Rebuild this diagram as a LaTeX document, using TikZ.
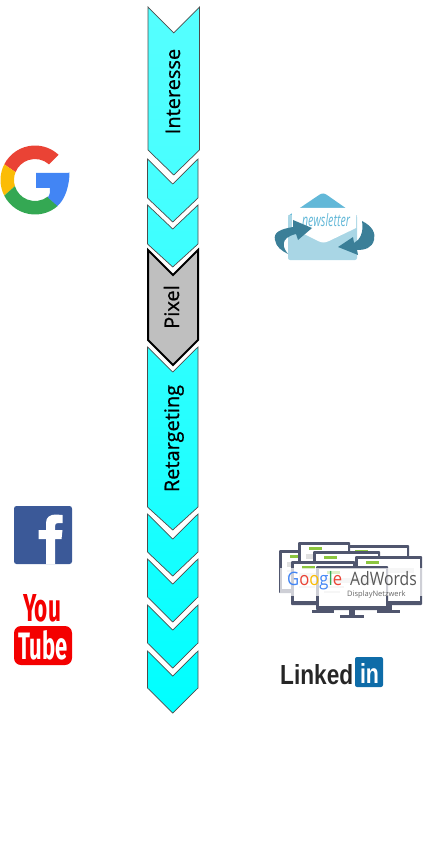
\documentclass[tikz,border=0pt]{standalone}
\usepackage{fontspec}
\usepackage{graphicx}
\setmainfont{Open Sans}
\newfontfamily\lblfont[FakeBold=0.8]{Open Sans}
\newfontfamily\libsans{Liberation Sans}
\newfontfamily\ytfont{Fira Sans}
\definecolor{cyantop}{HTML}{55FFFF}
\definecolor{gred}{HTML}{EA4335}
\definecolor{gyellow}{HTML}{FBBC05}
\definecolor{ggreen}{HTML}{34A853}
\definecolor{gblue}{HTML}{4285F4}
\definecolor{nlflap}{HTML}{62B8D8}
\definecolor{nlbody}{HTML}{A9D6E5}
\definecolor{nlarrow}{HTML}{3B7F98}
\definecolor{monframe}{HTML}{50566E}
\definecolor{mongreen}{HTML}{8CC63F}
\definecolor{fbblue}{HTML}{3B5998}
\definecolor{liblue}{HTML}{0E6CA8}
\definecolor{ytred}{HTML}{F40000}
\tikzset{
  chev/.style={draw=black!70,line width=0.7pt,line join=miter},
  chevgray/.style={draw=black,line width=2pt,fill=black!25,line join=miter},
  steplabel/.style={rotate=90,font=\lblfont\fontsize{20}{20}\selectfont,text=black,inner sep=0pt,anchor=base},
  monline/.style={fill=black!12,draw=none},
}
\newcommand{\chevpath}[6]{(#1,#3) -- ({(#1+#2)/2},#4) -- (#2,#3) -- (#2,#5) -- ({(#1+#2)/2},#6) -- (#1,#5) -- cycle}
\newcommand{\monitorshape}[4]{%
  \fill[monframe] ({(#1+#2)/2-3},#4) rectangle ({(#1+#2)/2+3},#4+6);
  \fill[monframe] ({(#1+#2)/2-(#2-#1)/6},#4+5) rectangle ({(#1+#2)/2+(#2-#1)/6},#4+8);
  \fill[monframe,rounded corners=1pt] (#1,#3) rectangle (#2,#4);
  \fill[white] (#1+2.5,#3+3) rectangle (#2-2.5,#4-4.5);
  \fill[mongreen] (#1+11,#3+5) rectangle (#1+24,#3+8);
  \fill[monline] (#1+8,#3+12) rectangle (#2-8,#3+17);
  \fill[monline] (#1+8,#3+20) rectangle (#1+28,#3+22);
  \fill[monline] (#1+8,#3+25) rectangle (#1+24,#3+27);
}
\begin{document}
\begin{tikzpicture}[x=1pt,y=-1pt]
\useasboundingbox (0,0) rectangle (429,850);

% chevrons
\path[chev,top color=cyantop,bottom color=cyantop!85!cyan] \chevpath{148}{199.5}{7}{33}{150}{175};
\path[chev,top color=cyantop!85!cyan,bottom color=cyantop!78!cyan] \chevpath{147.5}{198}{159}{184}{198}{222};
\path[chev,top color=cyantop!78!cyan,bottom color=cyantop!70!cyan] \chevpath{147.5}{198}{205}{229}{244}{267};
\path[chevgray] \chevpath{148}{198}{250}{275}{340}{365};
\path[chev,top color=cyantop!55!cyan,bottom color=cyantop!30!cyan] \chevpath{147.5}{198}{347}{372}{507}{530};
\path[chev,top color=cyantop!30!cyan,bottom color=cyantop!22!cyan] \chevpath{147.5}{198}{514}{539}{552}{576};
\path[chev,top color=cyantop!22!cyan,bottom color=cyantop!14!cyan] \chevpath{147.5}{198}{559}{584}{597}{622};
\path[chev,top color=cyantop!14!cyan,bottom color=cyantop!7!cyan] \chevpath{147.5}{198}{605}{630}{643}{668};
\path[chev,top color=cyantop!7!cyan,bottom color=cyan] \chevpath{147.5}{198}{651}{676}{688}{713};

\node[steplabel] (interesse) at (180,91.5) {Interesse};
\node[steplabel] (pixel) at (179,307) {Pixel};
\node[steplabel] (retargeting) at (179,438.5) {Retargeting};

% Google G
\begin{scope}[shift={(35,180)},x=1pt,y=1pt]
  \fill[gred] (153:34.5) arc (153:47:34.5) -- (48:21) arc (48:158:21) -- cycle;
  \fill[gyellow] (153:34.5) arc (153:207:34.5) -- (197:21) arc (197:158:21) -- cycle;
  \fill[ggreen] (207:34.5) arc (207:311:34.5) -- (-52:21) arc (-52:-163:21) -- cycle;
  \fill[gblue] (1,7) -- (33.7,7) .. controls (35,14) and (36,-14) .. (22.5,-26) -- (13,-17.5) .. controls (15,-14) and (15.5,-11) .. (15,-8) -- (1,-8) -- cycle;
\end{scope}

% Newsletter
\fill[nlflap] (288,216) -- (319,195) .. controls (322,193) and (324,193) .. (327,195) -- (357,216) -- cycle;
\fill[nlbody,rounded corners=2pt] (288,215) rectangle (357,260);
\fill[white] (292,208) -- (356,208) -- (356,228) -- (329,241) .. controls (325,243) and (322,243) .. (318,241) -- (292,228) -- cycle;
\node[inner sep=0pt,text=nlflap] (newsletter) at (326,220.5) {\resizebox{48pt}{13pt}{\itshape newsletter}};
\fill[nlarrow] (312,228) -- (293,220) -- (293,227) .. controls (281,229) and (273,232) .. (275,240) .. controls (276,247) and (282,251) .. (288,254) .. controls (283,248) and (279,238) .. (296,234) -- (298,240) -- cycle;
\fill[nlarrow] (338,247) -- (353,237) -- (354,243) .. controls (360,240) and (364,232) .. (362,221) .. controls (372,226) and (376,233) .. (374,240) .. controls (372,248) and (365,250) .. (357,250) -- (358,255) -- cycle;

% Facebook
\fill[fbblue,rounded corners=2.5pt] (14,506) rectangle (72,564);
\fill[white] (46,564) -- (46,539) -- (38.5,539) -- (38.5,530) -- (46,530) -- (46,523) .. controls (46,517) and (50,514.5) .. (56,514.5) -- (62.5,515) -- (62.5,523) -- (58,523) .. controls (56,523) and (55,524) .. (55,526) -- (55,530) -- (62.5,530) -- (61.5,539) -- (55,539) -- (55,564) -- cycle;

% YouTube
\node[inner sep=0pt,text=ytred] (you) at (42,608.5) {\resizebox{38pt}{27pt}{\ytfont\bfseries You}};
\node[fill=ytred,rounded corners=7pt,minimum width=58pt,minimum height=39pt,inner sep=0pt] (tubebox) at (43,645.5) {};
\node[inner sep=0pt,text=white] (tube) at (43,645.5) {\resizebox{49pt}{29pt}{\ytfont\bfseries Tube}};

% AdWords monitors
\monitorshape{279}{332}{550}{593}
\monitorshape{344}{409}{545}{590}
\monitorshape{298}{350}{542}{585}
\monitorshape{313}{380}{551}{592}
\monitorshape{355}{422}{556}{605}
\monitorshape{291}{355}{561}{605}
\monitorshape{316}{388}{566}{610}
\fill[white,opacity=0.72] (280,568) rectangle (426,596);
\node[inner sep=0pt,anchor=base west,font=\fontsize{18.5}{18.5}\selectfont] (google) at (287,585) {\scalebox{0.9}[1]{\textcolor{gblue}{G}\textcolor{gred}{o}\textcolor{gyellow}{o}\textcolor{gblue}{g}\textcolor{ggreen}{l}\textcolor{gred}{e}}};
\node[inner sep=0pt,anchor=base east,font=\fontsize{18.5}{18.5}\selectfont,text=black!65] (adwords) at (417,585) {\scalebox{0.85}[1]{AdWords}};
\node[inner sep=0pt,anchor=base west,font=\fontsize{7.5}{7.5}\selectfont,text=black!60] (display) at (347,596) {DisplayNetzwerk};

% LinkedIn
\node[inner sep=0pt,anchor=base west,text=black!85] (linked) at (280,684.5) {\resizebox{73pt}{20pt}{\libsans\bfseries Linked}};
\node[fill=liblue,rounded corners=2pt,minimum width=28pt,minimum height=30pt,inner sep=0pt] (libox) at (369,672) {};
\node[inner sep=0pt,anchor=base,text=white] (liin) at (369.5,683) {\resizebox{19pt}{20pt}{\libsans\bfseries in}};
\end{tikzpicture}
\end{document}
